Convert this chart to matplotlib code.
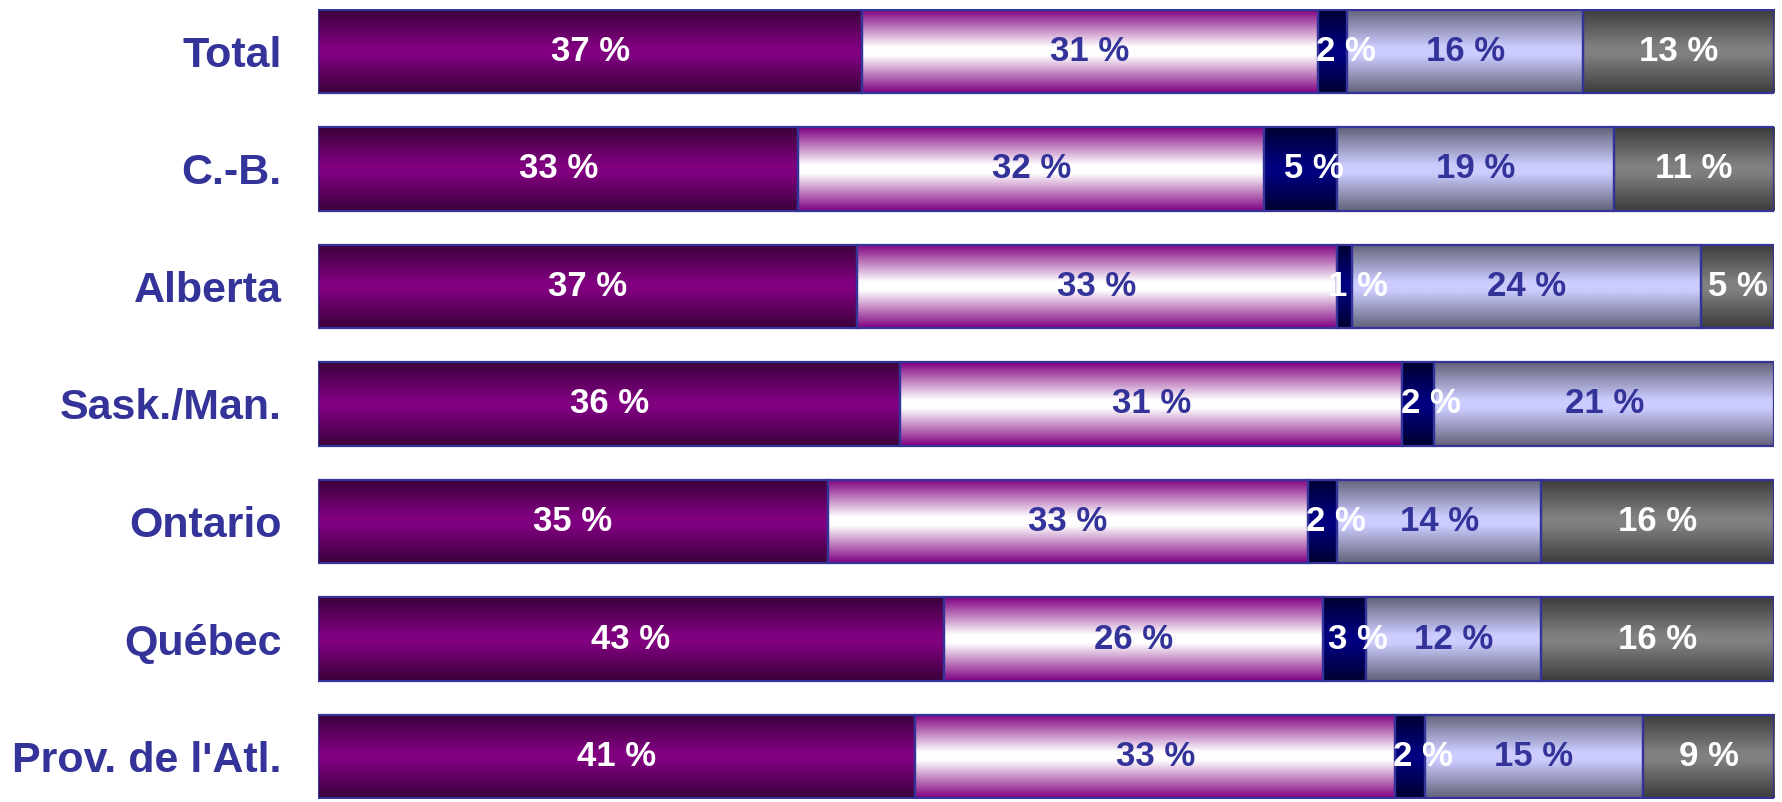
import numpy as np
import matplotlib.pyplot as plt
from matplotlib.colors import to_rgb

plt.rcParams['font.family'] = ['Liberation Sans', 'DejaVu Sans']

# données (pourcentages affichés)
regions = ['Total', 'C.-B.', 'Alberta', 'Sask./Man.', 'Ontario', 'Québec', "Prov. de l'Atl."]
seg1 = [37, 33, 37, 36, 35, 43, 41]
seg2 = [31, 32, 33, 31, 33, 26, 33]
seg3 = [2, 5, 1, 2, 2, 3, 2]
seg4 = [16, 19, 24, 21, 14, 12, 15]
seg5 = [13, 11, 5, 0, 16, 16, 9]

# couleur du bord, couleur du centre, couleur du texte
styles = [
    ('#3a003a', '#800080', 'white'),
    ('#800080', '#ffffff', '#333399'),
    ('#000030', '#000080', 'white'),
    ('#62627a', '#ccccff', '#333399'),
    ('#3c3c3c', '#808080', 'white'),
]

navy = '#333399'
bar_h = 0.71

fig = plt.figure(figsize=(17.83, 8.02), dpi=100)
ax = fig.add_axes([318 / 1783, 3 / 802, (1774 - 318) / 1783, 790 / 802])


def gradient(edge, center, n=200):
    e = np.array(to_rgb(edge))
    c = np.array(to_rgb(center))
    y = np.linspace(0, 1, n)
    w = np.clip((1 - np.abs(2 * y - 1)) / 0.9, 0, 1)
    return (e[None, :] * (1 - w[:, None]) + c[None, :] * w[:, None])[:, None, :]


data = np.array([seg1, seg2, seg3, seg4, seg5], dtype=float)
totals = data.sum(axis=0)

for i in range(len(regions)):
    left = 0.0
    for k in range(5):
        w = data[k, i] / totals[i]
        if w <= 0:
            continue
        edge, center, tcol = styles[k]
        ax.imshow(gradient(edge, center), extent=[left, left + w, i + bar_h / 2, i - bar_h / 2],
                  aspect='auto', interpolation='bilinear', zorder=1)
        ax.add_patch(plt.Rectangle((left, i - bar_h / 2), w, bar_h, fill=False,
                                   edgecolor=navy, lw=1.6, zorder=2))
        # les petites étiquettes débordent un peu vers la droite
        dx = 0.009 if k == 2 else 0.0
        ax.text(left + w / 2 + dx, i, f'{int(data[k, i])} %', ha='center', va='center',
                color=tcol, fontsize=25, fontweight='bold', zorder=3)
        left += w

ax.set_xlim(0, 1)
ax.set_ylim(len(regions) - 1 + bar_h / 2 + 0.005, -bar_h / 2 - 0.005)
ax.set_yticks(range(len(regions)))
ax.set_yticklabels(regions, fontsize=31, fontweight='bold', color=navy)
ax.tick_params(axis='y', length=0, pad=26)
ax.set_xticks([])
for s in ax.spines.values():
    s.set_visible(False)

fig.savefig('out.png', dpi=100)
